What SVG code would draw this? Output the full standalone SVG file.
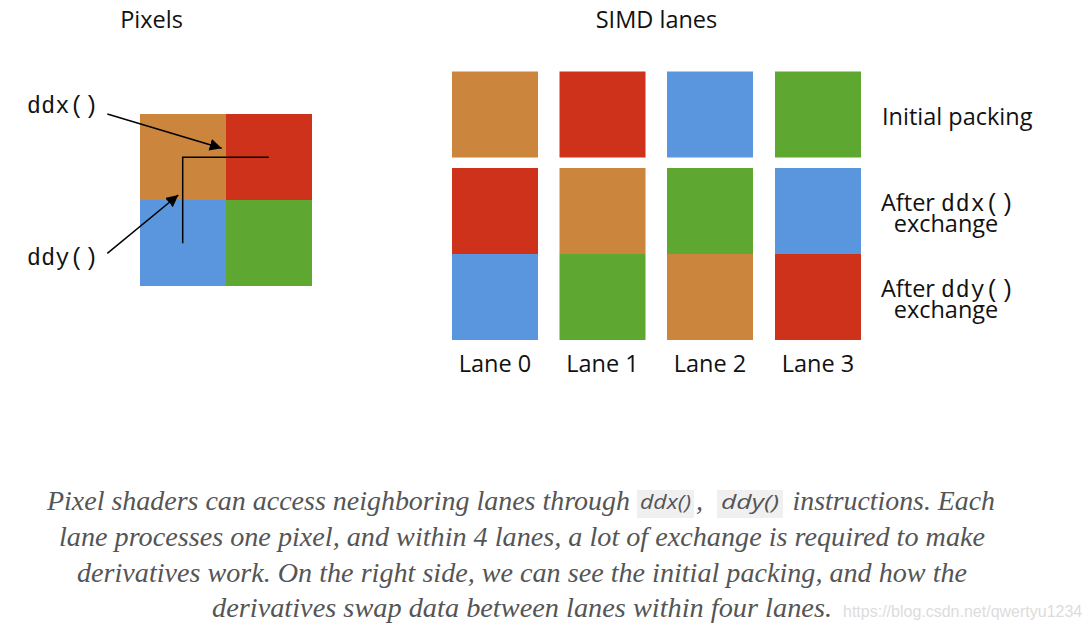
<svg xmlns="http://www.w3.org/2000/svg" width="1089" height="631" viewBox="0 0 1089 631">
<style>
.o{fill:#CB853D}.r{fill:#CE321B}.b{fill:#5A96DD}.g{fill:#5EA832}
.t{font-family:"Open Sans","Noto Sans",sans-serif;font-size:23.5px;fill:#111}
.m{font-family:"Liberation Mono","DejaVu Sans Mono",monospace;font-size:23px;fill:#111;letter-spacing:1px}
.cap{font-family:"Liberation Serif","DejaVu Serif",serif;font-style:italic;font-size:28px;fill:#555}
.cm{font-family:"Open Sans",sans-serif;font-style:italic;font-size:20px;fill:#555}
.ln{stroke:#000;stroke-width:1.5;fill:none}
</style>
<defs>
<marker id="ah" viewBox="0 0 10 10" refX="10" refY="5" markerWidth="12" markerHeight="12" markerUnits="userSpaceOnUse" orient="auto"><path d="M0,0L10,5L0,10z" fill="#000"/></marker>
</defs>
<rect width="1089" height="631" fill="#fff"/>
<text class="t" x="151.5" y="28" text-anchor="middle">Pixels</text>
<text class="t" x="656.5" y="28" text-anchor="middle">SIMD lanes</text>
<g id="pixels">
<rect class="o" x="140" y="114" width="86" height="86"/>
<rect class="r" x="226" y="114" width="86" height="86"/>
<rect class="b" x="140" y="200" width="86" height="86"/>
<rect class="g" x="226" y="200" width="86" height="86"/>
</g>
<g id="lane0">
<rect class="o" x="452" y="71.5" width="86" height="86"/>
<rect class="r" x="452" y="168" width="86" height="86"/>
<rect class="b" x="452" y="254" width="86" height="86"/>
<text class="t" x="495" y="372" text-anchor="middle">Lane 0</text>
</g>
<g id="lane1">
<rect class="r" x="559.5" y="71.5" width="86" height="86"/>
<rect class="o" x="559.5" y="168" width="86" height="86"/>
<rect class="g" x="559.5" y="254" width="86" height="86"/>
<text class="t" x="602.5" y="372" text-anchor="middle">Lane 1</text>
</g>
<g id="lane2">
<rect class="b" x="667" y="71.5" width="86" height="86"/>
<rect class="g" x="667" y="168" width="86" height="86"/>
<rect class="o" x="667" y="254" width="86" height="86"/>
<text class="t" x="710" y="372" text-anchor="middle">Lane 2</text>
</g>
<g id="lane3">
<rect class="g" x="775" y="71.5" width="86" height="86"/>
<rect class="b" x="775" y="168" width="86" height="86"/>
<rect class="r" x="775" y="254" width="86" height="86"/>
<text class="t" x="818" y="372" text-anchor="middle">Lane 3</text>
</g>
<g id="labels">
<text class="t" x="882" y="125">Initial packing</text>
<text class="t" x="881" y="210.5">After <tspan class="m">ddx()</tspan></text>
<text class="t" x="946" y="231.5" text-anchor="middle">exchange</text>
<text class="t" x="881" y="296.5">After <tspan class="m">ddy()</tspan></text>
<text class="t" x="946" y="317.5" text-anchor="middle">exchange</text>
<text class="m" x="27" y="113" textLength="72">ddx()</text>
<text class="m" x="27" y="265" textLength="72">ddy()</text>
</g>
<g id="connectors">
<path class="ln" d="M182.7,243.3V157.3H268.7"/>
<line class="ln" x1="107.3" y1="114" x2="221.7" y2="148.3" marker-end="url(#ah)"/>
<line class="ln" x1="107.3" y1="253.3" x2="178.3" y2="195" marker-end="url(#ah)"/>
</g>
<g id="caption">
<rect x="637" y="490" width="57" height="28" fill="#f0f0f0"/>
<rect x="717" y="490" width="66" height="28" fill="#f0f0f0"/>
<text class="cap" x="47" y="510" textLength="583" lengthAdjust="spacingAndGlyphs">Pixel shaders can access neighboring lanes through</text>
<text class="cm" x="640" y="509" textLength="51" lengthAdjust="spacingAndGlyphs">ddx()</text>
<text class="cap" x="696" y="510">,</text>
<text class="cm" x="721" y="509" textLength="58" lengthAdjust="spacingAndGlyphs">ddy()</text>
<text class="cap" x="792.5" y="510" textLength="202.5" lengthAdjust="spacingAndGlyphs">instructions. Each</text>
<text class="cap" x="59" y="546" textLength="926" lengthAdjust="spacingAndGlyphs">lane processes one pixel, and within 4 lanes, a lot of exchange is required to make</text>
<text class="cap" x="77" y="582" textLength="890" lengthAdjust="spacingAndGlyphs">derivatives work. On the right side, we can see the initial packing, and how the</text>
<text class="cap" x="212" y="617" textLength="620" lengthAdjust="spacingAndGlyphs">derivatives swap data between lanes within four lanes.</text>
</g>
<text x="843" y="617" font-family="Liberation Sans,sans-serif" font-size="16" fill="#dcdcdc">https://blog.csdn.net/qwertyu1234</text>
</svg>
